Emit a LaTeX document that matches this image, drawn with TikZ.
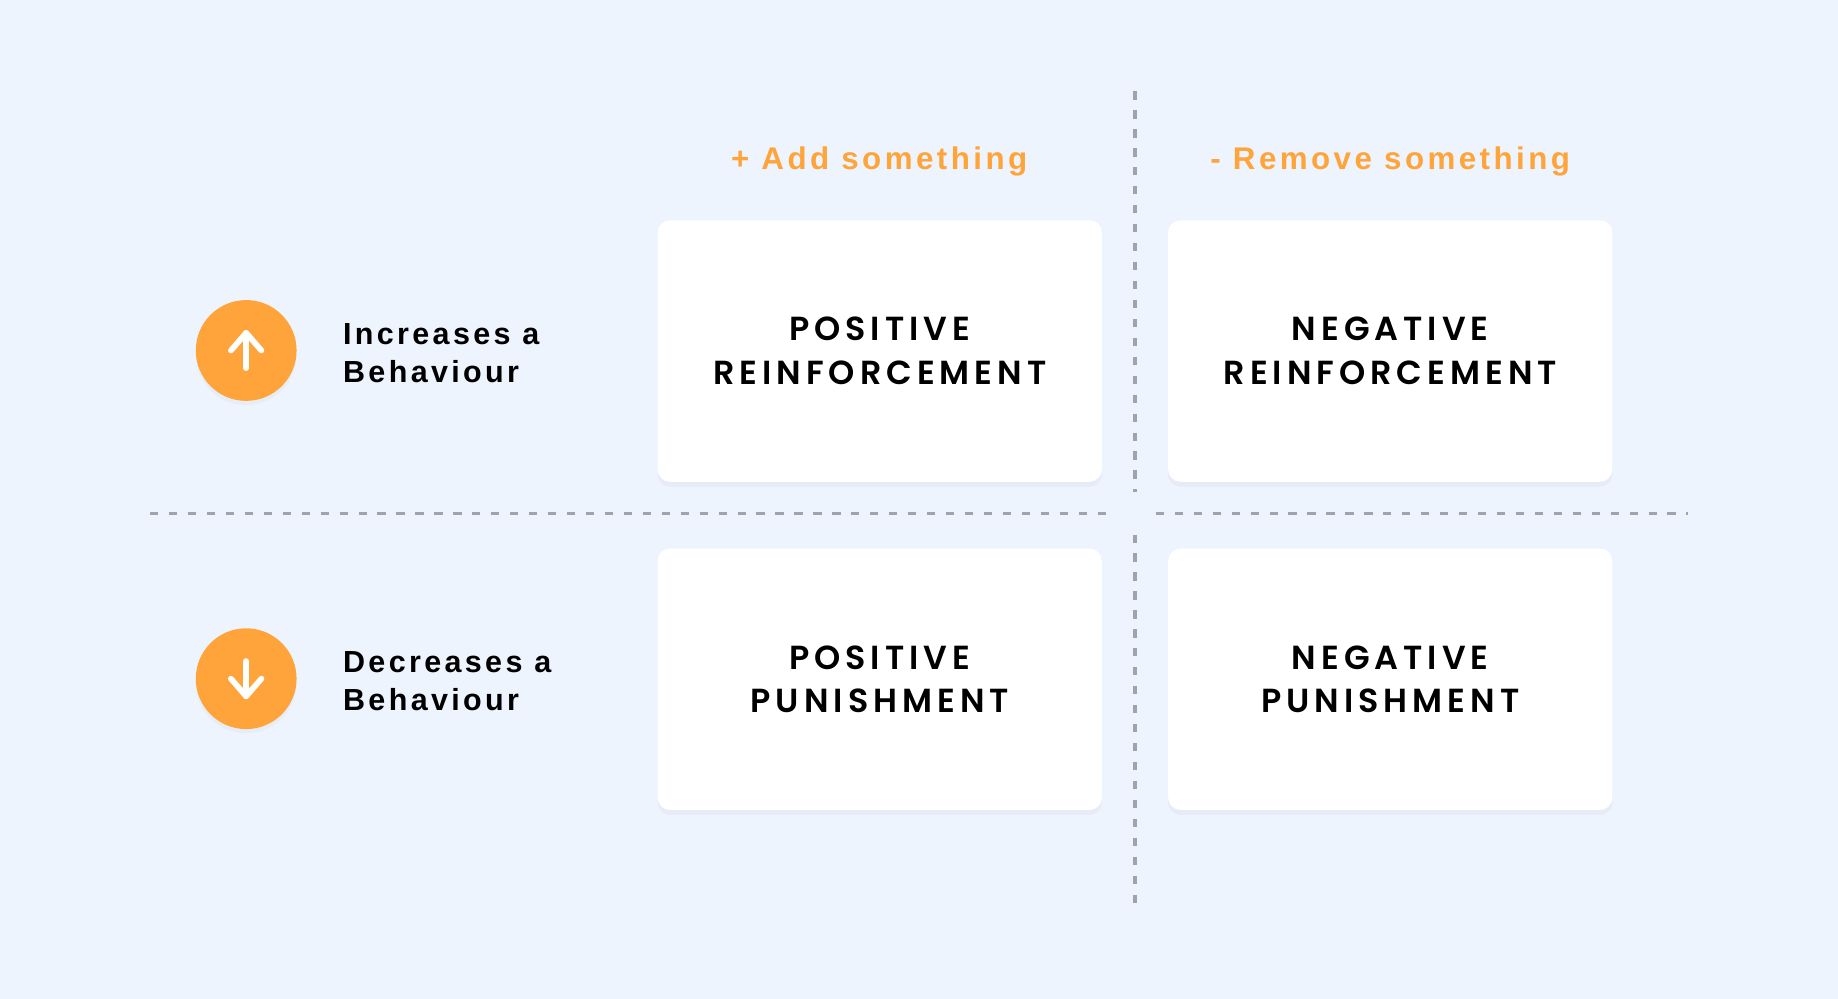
\documentclass[tikz,border=0pt]{standalone}
\usepackage{fontspec}
\setmainfont{Liberation Sans}
\newfontfamily\boxfont[LetterSpace=15]{Poppins SemiBold}
\newfontfamily\lblfont[LetterSpace=11]{Liberation Sans Bold}
\newfontfamily\hdfont[LetterSpace=11]{Liberation Sans Bold}
\usetikzlibrary{shadows}
\definecolor{bg}{HTML}{EEF4FE}
\definecolor{org}{HTML}{FFA43A}
\definecolor{dash}{HTML}{A0A4AA}
\tikzset{
 card/.style={draw=none,fill=white,rounded corners=3pt,minimum width=3.79cm,minimum height=2.23cm,
   drop shadow={opacity=0.07,shadow xshift=0pt,shadow yshift=-1.2pt},
   font=\boxfont\fontsize{8.1pt}{10.6pt}\selectfont,align=center},
 head/.style={text=org,font=\hdfont\fontsize{7.6pt}{9pt}\selectfont},
 lbl/.style={inner sep=0pt,font=\lblfont\fontsize{7.4pt}{9.2pt}\selectfont,align=left,anchor=west},
 circ/.style={circle,fill=org,minimum size=0.86cm,inner sep=0pt,drop shadow={opacity=0.06,shadow xshift=0pt,shadow yshift=-1pt}},
 dl/.style={draw=dash,line width=0.9pt,dash pattern=on 2pt off 2.6pt},
 arr/.style={white,line width=1.4pt,line cap=round,line join=round}
}
\begin{document}
\begin{tikzpicture}[x=1cm,y=1cm]
\fill[bg] (0,0) rectangle (15.68,8.52);
\useasboundingbox (0,0) rectangle (15.68,8.52);
\coordinate (vt) at (9.68,7.74);
\coordinate (vm1) at (9.68,4.32);
\coordinate (vm2) at (9.68,3.96);
\coordinate (vb) at (9.68,0.77);
\coordinate (hl) at (1.28,4.14);
\coordinate (hm1) at (9.50,4.14);
\coordinate (hm2) at (9.86,4.14);
\coordinate (hr) at (14.40,4.14);
\draw[dl] (vt) -- (vm1);
\draw[dl] (vm2) -- (vb);
\draw[dl] (hl) -- (hm1);
\draw[dl] (hm2) -- (hr);
\node[head] (h1) at (7.50,7.14) {+ Add something};
\node[head] (h2) at (11.86,7.14) {- Remove something};
\node[card] (pr) at (7.505,5.525) {POSITIVE\\REINFORCEMENT};
\node[card] (nr) at (11.86,5.525) {NEGATIVE\\REINFORCEMENT};
\node[card] (pp) at (7.505,2.725) {POSITIVE\\PUNISHMENT};
\node[card] (np) at (11.86,2.725) {NEGATIVE\\PUNISHMENT};
\node[circ] (c1) at (2.10,5.53) {};
\node[circ] (c2) at (2.10,2.73) {};
\draw[arr] ([yshift=-0.15cm]c1.center) -- ([yshift=0.15cm]c1.center);
\draw[arr] ([xshift=-0.13cm]c1.center) -- ([yshift=0.15cm]c1.center) -- ([xshift=0.13cm]c1.center);
\draw[arr] ([yshift=0.15cm]c2.center) -- ([yshift=-0.15cm]c2.center);
\draw[arr] ([xshift=-0.13cm]c2.center) -- ([yshift=-0.15cm]c2.center) -- ([xshift=0.13cm]c2.center);
\node[lbl] (l1) at (2.92,5.51) {Increases a\\Behaviour};
\node[lbl] (l2) at (2.92,2.71) {Decreases a\\Behaviour};
\end{tikzpicture}
\end{document}
